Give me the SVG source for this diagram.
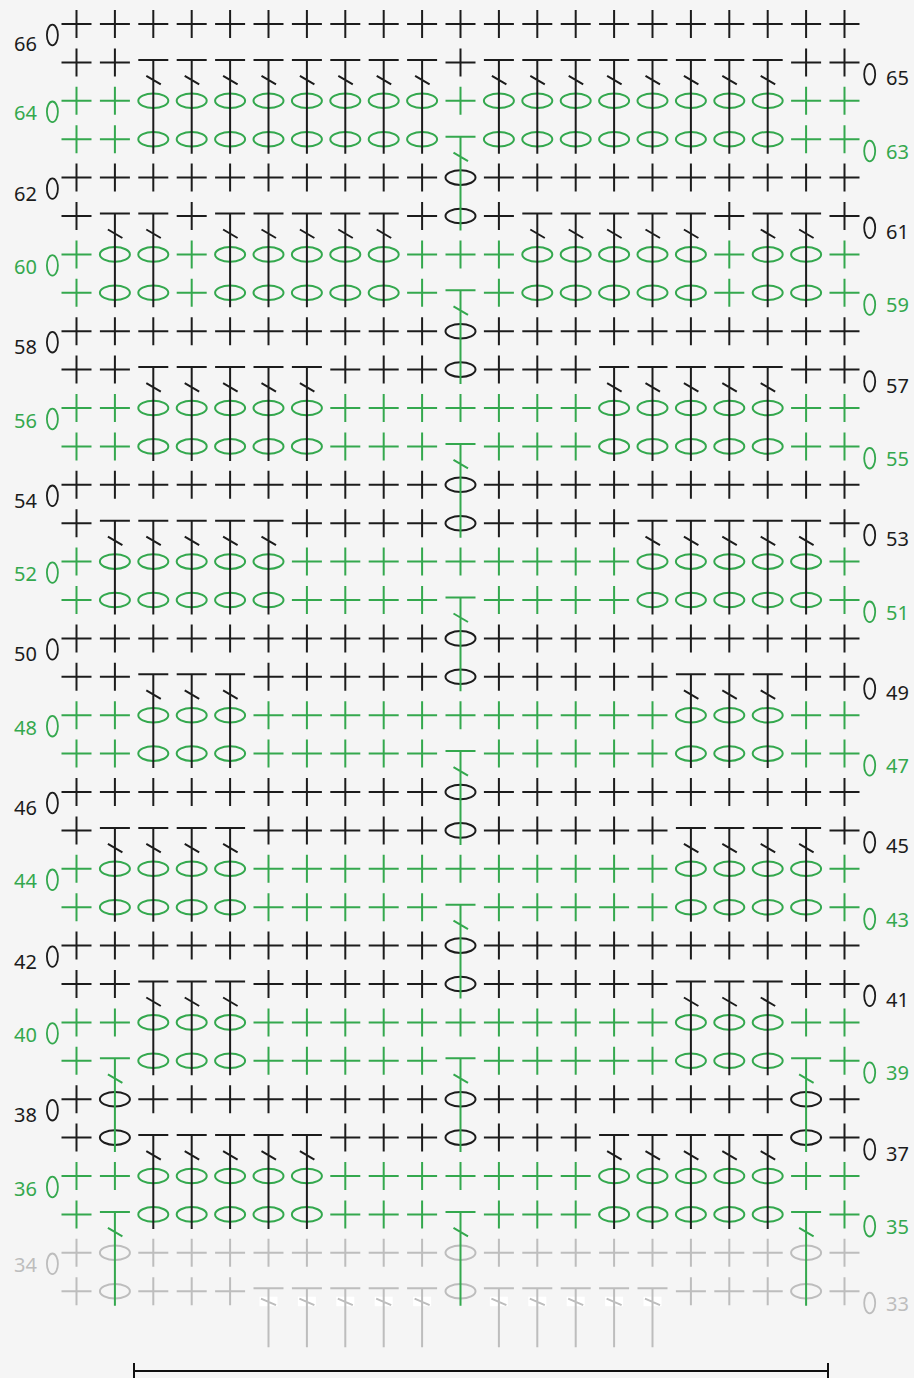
<svg xmlns="http://www.w3.org/2000/svg" width="914" height="1378" viewBox="0 0 914 1378">
<style>
.k{stroke:#1c1c1c;fill:#1c1c1c}
.g{stroke:#34a84e;fill:#34a84e}
.y{stroke:#bdbdbd;fill:#bdbdbd}
.row{stroke-width:2}
.lbl text{font-family:"Noto Sans","Liberation Sans",sans-serif;font-size:20px;stroke:none}
.lbl ellipse{fill:none;stroke-width:1.8}
</style>
<defs>
<path id="s" d="M-15 0H15M0 -14V14" fill="none"/>
<ellipse id="c" rx="15" ry="7.3" fill="none"/>
<path id="t" d="M-15 -2.5H15M0 -2.5V91.3M-7 13.5L7.5 22" fill="none"/>
<g id="u"><rect x="-9" y="5.5" width="18" height="9.5" fill="#fff" stroke="none"/><path d="M-15 -3H15M0 -3V56M-7.5 7.5L7.5 14" fill="none"/></g>
</defs>
<rect width="914" height="1378" fill="#f5f5f5"/>

<g id="row-33" class="row y" transform="translate(0 1291.2)">
<use href="#s" x="76.5"/><use href="#c" x="114.9"/><use href="#s" x="153.3"/><use href="#s" x="191.7"/><use href="#s" x="230.1"/><use href="#u" x="268.5"/><use href="#u" x="306.9"/><use href="#u" x="345.3"/><use href="#u" x="383.7"/><use href="#u" x="422.1"/><use href="#c" x="460.5"/><use href="#u" x="498.9"/><use href="#u" x="537.3"/><use href="#u" x="575.7"/><use href="#u" x="614.1"/><use href="#u" x="652.5"/><use href="#s" x="690.9"/><use href="#s" x="729.3"/><use href="#s" x="767.7"/><use href="#c" x="806.1"/><use href="#s" x="844.5"/>
</g>
<g id="row-34" class="row y" transform="translate(0 1252.8)">
<use href="#s" x="76.5"/><use href="#c" x="114.9"/><use href="#s" x="153.3"/><use href="#s" x="191.7"/><use href="#s" x="230.1"/><use href="#s" x="268.5"/><use href="#s" x="306.9"/><use href="#s" x="345.3"/><use href="#s" x="383.7"/><use href="#s" x="422.1"/><use href="#c" x="460.5"/><use href="#s" x="498.9"/><use href="#s" x="537.3"/><use href="#s" x="575.7"/><use href="#s" x="614.1"/><use href="#s" x="652.5"/><use href="#s" x="690.9"/><use href="#s" x="729.3"/><use href="#s" x="767.7"/><use href="#c" x="806.1"/><use href="#s" x="844.5"/>
</g>
<g id="row-35" class="row g" transform="translate(0 1214.4)">
<use href="#s" x="76.5"/><use href="#t" x="114.9"/><use href="#c" x="153.3"/><use href="#c" x="191.7"/><use href="#c" x="230.1"/><use href="#c" x="268.5"/><use href="#c" x="306.9"/><use href="#s" x="345.3"/><use href="#s" x="383.7"/><use href="#s" x="422.1"/><use href="#t" x="460.5"/><use href="#s" x="498.9"/><use href="#s" x="537.3"/><use href="#s" x="575.7"/><use href="#c" x="614.1"/><use href="#c" x="652.5"/><use href="#c" x="690.9"/><use href="#c" x="729.3"/><use href="#c" x="767.7"/><use href="#t" x="806.1"/><use href="#s" x="844.5"/>
</g>
<g id="row-36" class="row g" transform="translate(0 1176)">
<use href="#s" x="76.5"/><use href="#s" x="114.9"/><use href="#c" x="153.3"/><use href="#c" x="191.7"/><use href="#c" x="230.1"/><use href="#c" x="268.5"/><use href="#c" x="306.9"/><use href="#s" x="345.3"/><use href="#s" x="383.7"/><use href="#s" x="422.1"/><use href="#s" x="460.5"/><use href="#s" x="498.9"/><use href="#s" x="537.3"/><use href="#s" x="575.7"/><use href="#c" x="614.1"/><use href="#c" x="652.5"/><use href="#c" x="690.9"/><use href="#c" x="729.3"/><use href="#c" x="767.7"/><use href="#s" x="806.1"/><use href="#s" x="844.5"/>
</g>
<g id="row-37" class="row k" transform="translate(0 1137.6)">
<use href="#s" x="76.5"/><use href="#c" x="114.9"/><use href="#t" x="153.3"/><use href="#t" x="191.7"/><use href="#t" x="230.1"/><use href="#t" x="268.5"/><use href="#t" x="306.9"/><use href="#s" x="345.3"/><use href="#s" x="383.7"/><use href="#s" x="422.1"/><use href="#c" x="460.5"/><use href="#s" x="498.9"/><use href="#s" x="537.3"/><use href="#s" x="575.7"/><use href="#t" x="614.1"/><use href="#t" x="652.5"/><use href="#t" x="690.9"/><use href="#t" x="729.3"/><use href="#t" x="767.7"/><use href="#c" x="806.1"/><use href="#s" x="844.5"/>
</g>
<g id="row-38" class="row k" transform="translate(0 1099.2)">
<use href="#s" x="76.5"/><use href="#c" x="114.9"/><use href="#s" x="153.3"/><use href="#s" x="191.7"/><use href="#s" x="230.1"/><use href="#s" x="268.5"/><use href="#s" x="306.9"/><use href="#s" x="345.3"/><use href="#s" x="383.7"/><use href="#s" x="422.1"/><use href="#c" x="460.5"/><use href="#s" x="498.9"/><use href="#s" x="537.3"/><use href="#s" x="575.7"/><use href="#s" x="614.1"/><use href="#s" x="652.5"/><use href="#s" x="690.9"/><use href="#s" x="729.3"/><use href="#s" x="767.7"/><use href="#c" x="806.1"/><use href="#s" x="844.5"/>
</g>
<g id="row-39" class="row g" transform="translate(0 1060.8)">
<use href="#s" x="76.5"/><use href="#t" x="114.9"/><use href="#c" x="153.3"/><use href="#c" x="191.7"/><use href="#c" x="230.1"/><use href="#s" x="268.5"/><use href="#s" x="306.9"/><use href="#s" x="345.3"/><use href="#s" x="383.7"/><use href="#s" x="422.1"/><use href="#t" x="460.5"/><use href="#s" x="498.9"/><use href="#s" x="537.3"/><use href="#s" x="575.7"/><use href="#s" x="614.1"/><use href="#s" x="652.5"/><use href="#c" x="690.9"/><use href="#c" x="729.3"/><use href="#c" x="767.7"/><use href="#t" x="806.1"/><use href="#s" x="844.5"/>
</g>
<g id="row-40" class="row g" transform="translate(0 1022.4)">
<use href="#s" x="76.5"/><use href="#s" x="114.9"/><use href="#c" x="153.3"/><use href="#c" x="191.7"/><use href="#c" x="230.1"/><use href="#s" x="268.5"/><use href="#s" x="306.9"/><use href="#s" x="345.3"/><use href="#s" x="383.7"/><use href="#s" x="422.1"/><use href="#s" x="460.5"/><use href="#s" x="498.9"/><use href="#s" x="537.3"/><use href="#s" x="575.7"/><use href="#s" x="614.1"/><use href="#s" x="652.5"/><use href="#c" x="690.9"/><use href="#c" x="729.3"/><use href="#c" x="767.7"/><use href="#s" x="806.1"/><use href="#s" x="844.5"/>
</g>
<g id="row-41" class="row k" transform="translate(0 984)">
<use href="#s" x="76.5"/><use href="#s" x="114.9"/><use href="#t" x="153.3"/><use href="#t" x="191.7"/><use href="#t" x="230.1"/><use href="#s" x="268.5"/><use href="#s" x="306.9"/><use href="#s" x="345.3"/><use href="#s" x="383.7"/><use href="#s" x="422.1"/><use href="#c" x="460.5"/><use href="#s" x="498.9"/><use href="#s" x="537.3"/><use href="#s" x="575.7"/><use href="#s" x="614.1"/><use href="#s" x="652.5"/><use href="#t" x="690.9"/><use href="#t" x="729.3"/><use href="#t" x="767.7"/><use href="#s" x="806.1"/><use href="#s" x="844.5"/>
</g>
<g id="row-42" class="row k" transform="translate(0 945.6)">
<use href="#s" x="76.5"/><use href="#s" x="114.9"/><use href="#s" x="153.3"/><use href="#s" x="191.7"/><use href="#s" x="230.1"/><use href="#s" x="268.5"/><use href="#s" x="306.9"/><use href="#s" x="345.3"/><use href="#s" x="383.7"/><use href="#s" x="422.1"/><use href="#c" x="460.5"/><use href="#s" x="498.9"/><use href="#s" x="537.3"/><use href="#s" x="575.7"/><use href="#s" x="614.1"/><use href="#s" x="652.5"/><use href="#s" x="690.9"/><use href="#s" x="729.3"/><use href="#s" x="767.7"/><use href="#s" x="806.1"/><use href="#s" x="844.5"/>
</g>
<g id="row-43" class="row g" transform="translate(0 907.2)">
<use href="#s" x="76.5"/><use href="#c" x="114.9"/><use href="#c" x="153.3"/><use href="#c" x="191.7"/><use href="#c" x="230.1"/><use href="#s" x="268.5"/><use href="#s" x="306.9"/><use href="#s" x="345.3"/><use href="#s" x="383.7"/><use href="#s" x="422.1"/><use href="#t" x="460.5"/><use href="#s" x="498.9"/><use href="#s" x="537.3"/><use href="#s" x="575.7"/><use href="#s" x="614.1"/><use href="#s" x="652.5"/><use href="#c" x="690.9"/><use href="#c" x="729.3"/><use href="#c" x="767.7"/><use href="#c" x="806.1"/><use href="#s" x="844.5"/>
</g>
<g id="row-44" class="row g" transform="translate(0 868.8)">
<use href="#s" x="76.5"/><use href="#c" x="114.9"/><use href="#c" x="153.3"/><use href="#c" x="191.7"/><use href="#c" x="230.1"/><use href="#s" x="268.5"/><use href="#s" x="306.9"/><use href="#s" x="345.3"/><use href="#s" x="383.7"/><use href="#s" x="422.1"/><use href="#s" x="460.5"/><use href="#s" x="498.9"/><use href="#s" x="537.3"/><use href="#s" x="575.7"/><use href="#s" x="614.1"/><use href="#s" x="652.5"/><use href="#c" x="690.9"/><use href="#c" x="729.3"/><use href="#c" x="767.7"/><use href="#c" x="806.1"/><use href="#s" x="844.5"/>
</g>
<g id="row-45" class="row k" transform="translate(0 830.4)">
<use href="#s" x="76.5"/><use href="#t" x="114.9"/><use href="#t" x="153.3"/><use href="#t" x="191.7"/><use href="#t" x="230.1"/><use href="#s" x="268.5"/><use href="#s" x="306.9"/><use href="#s" x="345.3"/><use href="#s" x="383.7"/><use href="#s" x="422.1"/><use href="#c" x="460.5"/><use href="#s" x="498.9"/><use href="#s" x="537.3"/><use href="#s" x="575.7"/><use href="#s" x="614.1"/><use href="#s" x="652.5"/><use href="#t" x="690.9"/><use href="#t" x="729.3"/><use href="#t" x="767.7"/><use href="#t" x="806.1"/><use href="#s" x="844.5"/>
</g>
<g id="row-46" class="row k" transform="translate(0 792)">
<use href="#s" x="76.5"/><use href="#s" x="114.9"/><use href="#s" x="153.3"/><use href="#s" x="191.7"/><use href="#s" x="230.1"/><use href="#s" x="268.5"/><use href="#s" x="306.9"/><use href="#s" x="345.3"/><use href="#s" x="383.7"/><use href="#s" x="422.1"/><use href="#c" x="460.5"/><use href="#s" x="498.9"/><use href="#s" x="537.3"/><use href="#s" x="575.7"/><use href="#s" x="614.1"/><use href="#s" x="652.5"/><use href="#s" x="690.9"/><use href="#s" x="729.3"/><use href="#s" x="767.7"/><use href="#s" x="806.1"/><use href="#s" x="844.5"/>
</g>
<g id="row-47" class="row g" transform="translate(0 753.6)">
<use href="#s" x="76.5"/><use href="#s" x="114.9"/><use href="#c" x="153.3"/><use href="#c" x="191.7"/><use href="#c" x="230.1"/><use href="#s" x="268.5"/><use href="#s" x="306.9"/><use href="#s" x="345.3"/><use href="#s" x="383.7"/><use href="#s" x="422.1"/><use href="#t" x="460.5"/><use href="#s" x="498.9"/><use href="#s" x="537.3"/><use href="#s" x="575.7"/><use href="#s" x="614.1"/><use href="#s" x="652.5"/><use href="#c" x="690.9"/><use href="#c" x="729.3"/><use href="#c" x="767.7"/><use href="#s" x="806.1"/><use href="#s" x="844.5"/>
</g>
<g id="row-48" class="row g" transform="translate(0 715.2)">
<use href="#s" x="76.5"/><use href="#s" x="114.9"/><use href="#c" x="153.3"/><use href="#c" x="191.7"/><use href="#c" x="230.1"/><use href="#s" x="268.5"/><use href="#s" x="306.9"/><use href="#s" x="345.3"/><use href="#s" x="383.7"/><use href="#s" x="422.1"/><use href="#s" x="460.5"/><use href="#s" x="498.9"/><use href="#s" x="537.3"/><use href="#s" x="575.7"/><use href="#s" x="614.1"/><use href="#s" x="652.5"/><use href="#c" x="690.9"/><use href="#c" x="729.3"/><use href="#c" x="767.7"/><use href="#s" x="806.1"/><use href="#s" x="844.5"/>
</g>
<g id="row-49" class="row k" transform="translate(0 676.8)">
<use href="#s" x="76.5"/><use href="#s" x="114.9"/><use href="#t" x="153.3"/><use href="#t" x="191.7"/><use href="#t" x="230.1"/><use href="#s" x="268.5"/><use href="#s" x="306.9"/><use href="#s" x="345.3"/><use href="#s" x="383.7"/><use href="#s" x="422.1"/><use href="#c" x="460.5"/><use href="#s" x="498.9"/><use href="#s" x="537.3"/><use href="#s" x="575.7"/><use href="#s" x="614.1"/><use href="#s" x="652.5"/><use href="#t" x="690.9"/><use href="#t" x="729.3"/><use href="#t" x="767.7"/><use href="#s" x="806.1"/><use href="#s" x="844.5"/>
</g>
<g id="row-50" class="row k" transform="translate(0 638.4)">
<use href="#s" x="76.5"/><use href="#s" x="114.9"/><use href="#s" x="153.3"/><use href="#s" x="191.7"/><use href="#s" x="230.1"/><use href="#s" x="268.5"/><use href="#s" x="306.9"/><use href="#s" x="345.3"/><use href="#s" x="383.7"/><use href="#s" x="422.1"/><use href="#c" x="460.5"/><use href="#s" x="498.9"/><use href="#s" x="537.3"/><use href="#s" x="575.7"/><use href="#s" x="614.1"/><use href="#s" x="652.5"/><use href="#s" x="690.9"/><use href="#s" x="729.3"/><use href="#s" x="767.7"/><use href="#s" x="806.1"/><use href="#s" x="844.5"/>
</g>
<g id="row-51" class="row g" transform="translate(0 600)">
<use href="#s" x="76.5"/><use href="#c" x="114.9"/><use href="#c" x="153.3"/><use href="#c" x="191.7"/><use href="#c" x="230.1"/><use href="#c" x="268.5"/><use href="#s" x="306.9"/><use href="#s" x="345.3"/><use href="#s" x="383.7"/><use href="#s" x="422.1"/><use href="#t" x="460.5"/><use href="#s" x="498.9"/><use href="#s" x="537.3"/><use href="#s" x="575.7"/><use href="#s" x="614.1"/><use href="#c" x="652.5"/><use href="#c" x="690.9"/><use href="#c" x="729.3"/><use href="#c" x="767.7"/><use href="#c" x="806.1"/><use href="#s" x="844.5"/>
</g>
<g id="row-52" class="row g" transform="translate(0 561.6)">
<use href="#s" x="76.5"/><use href="#c" x="114.9"/><use href="#c" x="153.3"/><use href="#c" x="191.7"/><use href="#c" x="230.1"/><use href="#c" x="268.5"/><use href="#s" x="306.9"/><use href="#s" x="345.3"/><use href="#s" x="383.7"/><use href="#s" x="422.1"/><use href="#s" x="460.5"/><use href="#s" x="498.9"/><use href="#s" x="537.3"/><use href="#s" x="575.7"/><use href="#s" x="614.1"/><use href="#c" x="652.5"/><use href="#c" x="690.9"/><use href="#c" x="729.3"/><use href="#c" x="767.7"/><use href="#c" x="806.1"/><use href="#s" x="844.5"/>
</g>
<g id="row-53" class="row k" transform="translate(0 523.2)">
<use href="#s" x="76.5"/><use href="#t" x="114.9"/><use href="#t" x="153.3"/><use href="#t" x="191.7"/><use href="#t" x="230.1"/><use href="#t" x="268.5"/><use href="#s" x="306.9"/><use href="#s" x="345.3"/><use href="#s" x="383.7"/><use href="#s" x="422.1"/><use href="#c" x="460.5"/><use href="#s" x="498.9"/><use href="#s" x="537.3"/><use href="#s" x="575.7"/><use href="#s" x="614.1"/><use href="#t" x="652.5"/><use href="#t" x="690.9"/><use href="#t" x="729.3"/><use href="#t" x="767.7"/><use href="#t" x="806.1"/><use href="#s" x="844.5"/>
</g>
<g id="row-54" class="row k" transform="translate(0 484.8)">
<use href="#s" x="76.5"/><use href="#s" x="114.9"/><use href="#s" x="153.3"/><use href="#s" x="191.7"/><use href="#s" x="230.1"/><use href="#s" x="268.5"/><use href="#s" x="306.9"/><use href="#s" x="345.3"/><use href="#s" x="383.7"/><use href="#s" x="422.1"/><use href="#c" x="460.5"/><use href="#s" x="498.9"/><use href="#s" x="537.3"/><use href="#s" x="575.7"/><use href="#s" x="614.1"/><use href="#s" x="652.5"/><use href="#s" x="690.9"/><use href="#s" x="729.3"/><use href="#s" x="767.7"/><use href="#s" x="806.1"/><use href="#s" x="844.5"/>
</g>
<g id="row-55" class="row g" transform="translate(0 446.4)">
<use href="#s" x="76.5"/><use href="#s" x="114.9"/><use href="#c" x="153.3"/><use href="#c" x="191.7"/><use href="#c" x="230.1"/><use href="#c" x="268.5"/><use href="#c" x="306.9"/><use href="#s" x="345.3"/><use href="#s" x="383.7"/><use href="#s" x="422.1"/><use href="#t" x="460.5"/><use href="#s" x="498.9"/><use href="#s" x="537.3"/><use href="#s" x="575.7"/><use href="#c" x="614.1"/><use href="#c" x="652.5"/><use href="#c" x="690.9"/><use href="#c" x="729.3"/><use href="#c" x="767.7"/><use href="#s" x="806.1"/><use href="#s" x="844.5"/>
</g>
<g id="row-56" class="row g" transform="translate(0 408)">
<use href="#s" x="76.5"/><use href="#s" x="114.9"/><use href="#c" x="153.3"/><use href="#c" x="191.7"/><use href="#c" x="230.1"/><use href="#c" x="268.5"/><use href="#c" x="306.9"/><use href="#s" x="345.3"/><use href="#s" x="383.7"/><use href="#s" x="422.1"/><use href="#s" x="460.5"/><use href="#s" x="498.9"/><use href="#s" x="537.3"/><use href="#s" x="575.7"/><use href="#c" x="614.1"/><use href="#c" x="652.5"/><use href="#c" x="690.9"/><use href="#c" x="729.3"/><use href="#c" x="767.7"/><use href="#s" x="806.1"/><use href="#s" x="844.5"/>
</g>
<g id="row-57" class="row k" transform="translate(0 369.6)">
<use href="#s" x="76.5"/><use href="#s" x="114.9"/><use href="#t" x="153.3"/><use href="#t" x="191.7"/><use href="#t" x="230.1"/><use href="#t" x="268.5"/><use href="#t" x="306.9"/><use href="#s" x="345.3"/><use href="#s" x="383.7"/><use href="#s" x="422.1"/><use href="#c" x="460.5"/><use href="#s" x="498.9"/><use href="#s" x="537.3"/><use href="#s" x="575.7"/><use href="#t" x="614.1"/><use href="#t" x="652.5"/><use href="#t" x="690.9"/><use href="#t" x="729.3"/><use href="#t" x="767.7"/><use href="#s" x="806.1"/><use href="#s" x="844.5"/>
</g>
<g id="row-58" class="row k" transform="translate(0 331.2)">
<use href="#s" x="76.5"/><use href="#s" x="114.9"/><use href="#s" x="153.3"/><use href="#s" x="191.7"/><use href="#s" x="230.1"/><use href="#s" x="268.5"/><use href="#s" x="306.9"/><use href="#s" x="345.3"/><use href="#s" x="383.7"/><use href="#s" x="422.1"/><use href="#c" x="460.5"/><use href="#s" x="498.9"/><use href="#s" x="537.3"/><use href="#s" x="575.7"/><use href="#s" x="614.1"/><use href="#s" x="652.5"/><use href="#s" x="690.9"/><use href="#s" x="729.3"/><use href="#s" x="767.7"/><use href="#s" x="806.1"/><use href="#s" x="844.5"/>
</g>
<g id="row-59" class="row g" transform="translate(0 292.8)">
<use href="#s" x="76.5"/><use href="#c" x="114.9"/><use href="#c" x="153.3"/><use href="#s" x="191.7"/><use href="#c" x="230.1"/><use href="#c" x="268.5"/><use href="#c" x="306.9"/><use href="#c" x="345.3"/><use href="#c" x="383.7"/><use href="#s" x="422.1"/><use href="#t" x="460.5"/><use href="#s" x="498.9"/><use href="#c" x="537.3"/><use href="#c" x="575.7"/><use href="#c" x="614.1"/><use href="#c" x="652.5"/><use href="#c" x="690.9"/><use href="#s" x="729.3"/><use href="#c" x="767.7"/><use href="#c" x="806.1"/><use href="#s" x="844.5"/>
</g>
<g id="row-60" class="row g" transform="translate(0 254.4)">
<use href="#s" x="76.5"/><use href="#c" x="114.9"/><use href="#c" x="153.3"/><use href="#s" x="191.7"/><use href="#c" x="230.1"/><use href="#c" x="268.5"/><use href="#c" x="306.9"/><use href="#c" x="345.3"/><use href="#c" x="383.7"/><use href="#s" x="422.1"/><use href="#s" x="460.5"/><use href="#s" x="498.9"/><use href="#c" x="537.3"/><use href="#c" x="575.7"/><use href="#c" x="614.1"/><use href="#c" x="652.5"/><use href="#c" x="690.9"/><use href="#s" x="729.3"/><use href="#c" x="767.7"/><use href="#c" x="806.1"/><use href="#s" x="844.5"/>
</g>
<g id="row-61" class="row k" transform="translate(0 216)">
<use href="#s" x="76.5"/><use href="#t" x="114.9"/><use href="#t" x="153.3"/><use href="#s" x="191.7"/><use href="#t" x="230.1"/><use href="#t" x="268.5"/><use href="#t" x="306.9"/><use href="#t" x="345.3"/><use href="#t" x="383.7"/><use href="#s" x="422.1"/><use href="#c" x="460.5"/><use href="#s" x="498.9"/><use href="#t" x="537.3"/><use href="#t" x="575.7"/><use href="#t" x="614.1"/><use href="#t" x="652.5"/><use href="#t" x="690.9"/><use href="#s" x="729.3"/><use href="#t" x="767.7"/><use href="#t" x="806.1"/><use href="#s" x="844.5"/>
</g>
<g id="row-62" class="row k" transform="translate(0 177.6)">
<use href="#s" x="76.5"/><use href="#s" x="114.9"/><use href="#s" x="153.3"/><use href="#s" x="191.7"/><use href="#s" x="230.1"/><use href="#s" x="268.5"/><use href="#s" x="306.9"/><use href="#s" x="345.3"/><use href="#s" x="383.7"/><use href="#s" x="422.1"/><use href="#c" x="460.5"/><use href="#s" x="498.9"/><use href="#s" x="537.3"/><use href="#s" x="575.7"/><use href="#s" x="614.1"/><use href="#s" x="652.5"/><use href="#s" x="690.9"/><use href="#s" x="729.3"/><use href="#s" x="767.7"/><use href="#s" x="806.1"/><use href="#s" x="844.5"/>
</g>
<g id="row-63" class="row g" transform="translate(0 139.2)">
<use href="#s" x="76.5"/><use href="#s" x="114.9"/><use href="#c" x="153.3"/><use href="#c" x="191.7"/><use href="#c" x="230.1"/><use href="#c" x="268.5"/><use href="#c" x="306.9"/><use href="#c" x="345.3"/><use href="#c" x="383.7"/><use href="#c" x="422.1"/><use href="#t" x="460.5"/><use href="#c" x="498.9"/><use href="#c" x="537.3"/><use href="#c" x="575.7"/><use href="#c" x="614.1"/><use href="#c" x="652.5"/><use href="#c" x="690.9"/><use href="#c" x="729.3"/><use href="#c" x="767.7"/><use href="#s" x="806.1"/><use href="#s" x="844.5"/>
</g>
<g id="row-64" class="row g" transform="translate(0 100.8)">
<use href="#s" x="76.5"/><use href="#s" x="114.9"/><use href="#c" x="153.3"/><use href="#c" x="191.7"/><use href="#c" x="230.1"/><use href="#c" x="268.5"/><use href="#c" x="306.9"/><use href="#c" x="345.3"/><use href="#c" x="383.7"/><use href="#c" x="422.1"/><use href="#s" x="460.5"/><use href="#c" x="498.9"/><use href="#c" x="537.3"/><use href="#c" x="575.7"/><use href="#c" x="614.1"/><use href="#c" x="652.5"/><use href="#c" x="690.9"/><use href="#c" x="729.3"/><use href="#c" x="767.7"/><use href="#s" x="806.1"/><use href="#s" x="844.5"/>
</g>
<g id="row-65" class="row k" transform="translate(0 62.4)">
<use href="#s" x="76.5"/><use href="#s" x="114.9"/><use href="#t" x="153.3"/><use href="#t" x="191.7"/><use href="#t" x="230.1"/><use href="#t" x="268.5"/><use href="#t" x="306.9"/><use href="#t" x="345.3"/><use href="#t" x="383.7"/><use href="#t" x="422.1"/><use href="#s" x="460.5"/><use href="#t" x="498.9"/><use href="#t" x="537.3"/><use href="#t" x="575.7"/><use href="#t" x="614.1"/><use href="#t" x="652.5"/><use href="#t" x="690.9"/><use href="#t" x="729.3"/><use href="#t" x="767.7"/><use href="#s" x="806.1"/><use href="#s" x="844.5"/>
</g>
<g id="row-66" class="row k" transform="translate(0 24)">
<use href="#s" x="76.5"/><use href="#s" x="114.9"/><use href="#s" x="153.3"/><use href="#s" x="191.7"/><use href="#s" x="230.1"/><use href="#s" x="268.5"/><use href="#s" x="306.9"/><use href="#s" x="345.3"/><use href="#s" x="383.7"/><use href="#s" x="422.1"/><use href="#s" x="460.5"/><use href="#s" x="498.9"/><use href="#s" x="537.3"/><use href="#s" x="575.7"/><use href="#s" x="614.1"/><use href="#s" x="652.5"/><use href="#s" x="690.9"/><use href="#s" x="729.3"/><use href="#s" x="767.7"/><use href="#s" x="806.1"/><use href="#s" x="844.5"/>
</g>

<g id="labels-left" class="lbl" text-anchor="end">
<g class="k"><text x="37" y="50.5">66</text><ellipse cx="52.4" cy="35" rx="5.5" ry="10.3"/></g>
<g class="g"><text x="37" y="120.3">64</text><ellipse cx="52.4" cy="111.8" rx="5.5" ry="10.3"/></g>
<g class="k"><text x="37" y="200.6">62</text><ellipse cx="52.4" cy="188.6" rx="5.5" ry="10.3"/></g>
<g class="g"><text x="37" y="273.9">60</text><ellipse cx="52.4" cy="265.4" rx="5.5" ry="10.3"/></g>
<g class="k"><text x="37" y="354.2">58</text><ellipse cx="52.4" cy="342.2" rx="5.5" ry="10.3"/></g>
<g class="g"><text x="37" y="427.5">56</text><ellipse cx="52.4" cy="419" rx="5.5" ry="10.3"/></g>
<g class="k"><text x="37" y="507.8">54</text><ellipse cx="52.4" cy="495.8" rx="5.5" ry="10.3"/></g>
<g class="g"><text x="37" y="581.1">52</text><ellipse cx="52.4" cy="572.6" rx="5.5" ry="10.3"/></g>
<g class="k"><text x="37" y="661.4">50</text><ellipse cx="52.4" cy="649.4" rx="5.5" ry="10.3"/></g>
<g class="g"><text x="37" y="734.7">48</text><ellipse cx="52.4" cy="726.2" rx="5.5" ry="10.3"/></g>
<g class="k"><text x="37" y="815">46</text><ellipse cx="52.4" cy="803" rx="5.5" ry="10.3"/></g>
<g class="g"><text x="37" y="888.3">44</text><ellipse cx="52.4" cy="879.8" rx="5.5" ry="10.3"/></g>
<g class="k"><text x="37" y="968.6">42</text><ellipse cx="52.4" cy="956.6" rx="5.5" ry="10.3"/></g>
<g class="g"><text x="37" y="1041.9">40</text><ellipse cx="52.4" cy="1033.4" rx="5.5" ry="10.3"/></g>
<g class="k"><text x="37" y="1122.2">38</text><ellipse cx="52.4" cy="1110.2" rx="5.5" ry="10.3"/></g>
<g class="g"><text x="37" y="1195.5">36</text><ellipse cx="52.4" cy="1187" rx="5.5" ry="10.3"/></g>
<g class="y"><text x="37" y="1272.3">34</text><ellipse cx="52.4" cy="1263.8" rx="5.5" ry="10.3"/></g>
</g>

<g id="labels-right" class="lbl">
<g class="k"><ellipse cx="869.7" cy="74.2" rx="5.5" ry="10.3"/><text x="886" y="85.4">65</text></g>
<g class="g"><ellipse cx="869.7" cy="151" rx="5.5" ry="10.3"/><text x="886" y="158.7">63</text></g>
<g class="k"><ellipse cx="869.7" cy="227.8" rx="5.5" ry="10.3"/><text x="886" y="239">61</text></g>
<g class="g"><ellipse cx="869.7" cy="304.6" rx="5.5" ry="10.3"/><text x="886" y="312.3">59</text></g>
<g class="k"><ellipse cx="869.7" cy="381.4" rx="5.5" ry="10.3"/><text x="886" y="392.6">57</text></g>
<g class="g"><ellipse cx="869.7" cy="458.2" rx="5.5" ry="10.3"/><text x="886" y="465.9">55</text></g>
<g class="k"><ellipse cx="869.7" cy="535" rx="5.5" ry="10.3"/><text x="886" y="546.2">53</text></g>
<g class="g"><ellipse cx="869.7" cy="611.8" rx="5.5" ry="10.3"/><text x="886" y="619.5">51</text></g>
<g class="k"><ellipse cx="869.7" cy="688.6" rx="5.5" ry="10.3"/><text x="886" y="699.8">49</text></g>
<g class="g"><ellipse cx="869.7" cy="765.4" rx="5.5" ry="10.3"/><text x="886" y="773.1">47</text></g>
<g class="k"><ellipse cx="869.7" cy="842.2" rx="5.5" ry="10.3"/><text x="886" y="853.4">45</text></g>
<g class="g"><ellipse cx="869.7" cy="919" rx="5.5" ry="10.3"/><text x="886" y="926.7">43</text></g>
<g class="k"><ellipse cx="869.7" cy="995.8" rx="5.5" ry="10.3"/><text x="886" y="1007">41</text></g>
<g class="g"><ellipse cx="869.7" cy="1072.6" rx="5.5" ry="10.3"/><text x="886" y="1080.3">39</text></g>
<g class="k"><ellipse cx="869.7" cy="1149.4" rx="5.5" ry="10.3"/><text x="886" y="1160.6">37</text></g>
<g class="g"><ellipse cx="869.7" cy="1226.2" rx="5.5" ry="10.3"/><text x="886" y="1233.9">35</text></g>
<g class="y"><ellipse cx="869.7" cy="1303" rx="5.5" ry="10.3"/><text x="886" y="1310.7">33</text></g>
</g>

<g id="connectors">
<path d="M134 1371H828M134 1363V1378M828 1363V1378" fill="none" stroke="#111" stroke-width="2"/>
</g>
</svg>
